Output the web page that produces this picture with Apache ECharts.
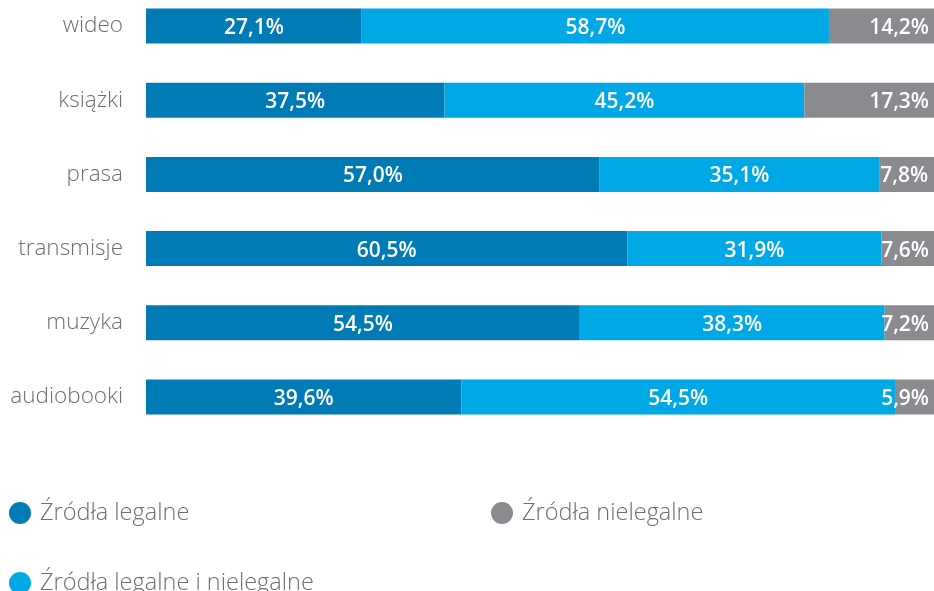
<!DOCTYPE html>
<html><head><meta charset="utf-8">
<script src="https://cdn.jsdelivr.net/npm/echarts@6/dist/echarts.min.js"></script>
<style>html,body{margin:0;padding:0;background:#fff}#c{width:934px;height:591px}</style>
</head><body><div id="c"></div>
<script>
const categories = ['wideo', 'książki', 'prasa', 'transmisje', 'muzyka', 'audiobooki'];
const legal = [27.1, 37.5, 57.0, 60.5, 54.5, 39.6];
const mixed = [58.7, 45.2, 35.1, 31.9, 38.3, 54.5];
const illegal = [14.2, 17.3, 7.8, 7.6, 7.2, 5.9];
const seriesNames = ['Źródła legalne', 'Źródła legalne i nielegalne', 'Źródła nielegalne'];
const colors = ['#007bb6', '#00a9e6', '#898b8f'];

const fmt = p => p.value.toFixed(1).replace('.', ',') + '%';
const FONT = '"Open Sans", sans-serif';
const lbl = (pos, extra) => Object.assign({
  show: true, position: pos, formatter: fmt, color: '#fff', offset: [0, 2],
  fontFamily: FONT, fontWeight: 600, fontSize: 21
}, extra || {});

const chart = echarts.init(document.getElementById('c'));
const mkLegend = (name, left, top) => ({
  data: [name], left: left, top: top, icon: 'circle', itemWidth: 22, itemHeight: 22,
  itemGap: 0, selectedMode: false,
  textStyle: { fontFamily: FONT, fontWeight: 300, fontSize: 23.5, color: '#6d6e71', padding: [0, 0, 0, 4] }
});
chart.setOption({
  animation: false,
  grid: { left: 146, width: 796, top: 26, height: 371, outerBoundsMode: 'none', containLabel: false },
  legend: [
    mkLegend(seriesNames[0], 4, 496),
    mkLegend(seriesNames[2], 486, 496),
    mkLegend(seriesNames[1], 4, 566)
  ],
  xAxis: { type: 'value', min: 0, max: 100, show: false },
  yAxis: {
    type: 'category', data: categories, inverse: true, boundaryGap: false,
    axisLine: { show: false }, axisTick: { show: false }, splitLine: { show: false },
    axisLabel: { margin: 23, fontFamily: FONT, fontWeight: 300, fontSize: 22.5, color: '#6d6e71' }
  },
  series: [
    { name: seriesNames[0], type: 'bar', stack: 's', data: legal, barWidth: 35,
      itemStyle: { color: colors[0] }, label: lbl('inside') },
    { name: seriesNames[1], type: 'bar', stack: 's', data: mixed, barWidth: 35,
      itemStyle: { color: colors[1] }, label: lbl('inside') },
    { name: seriesNames[2], type: 'bar', stack: 's', data: illegal, barWidth: 35,
      itemStyle: { color: colors[2] }, label: lbl('insideRight', { distance: 13 }) }
  ]
});
</script></body></html>
